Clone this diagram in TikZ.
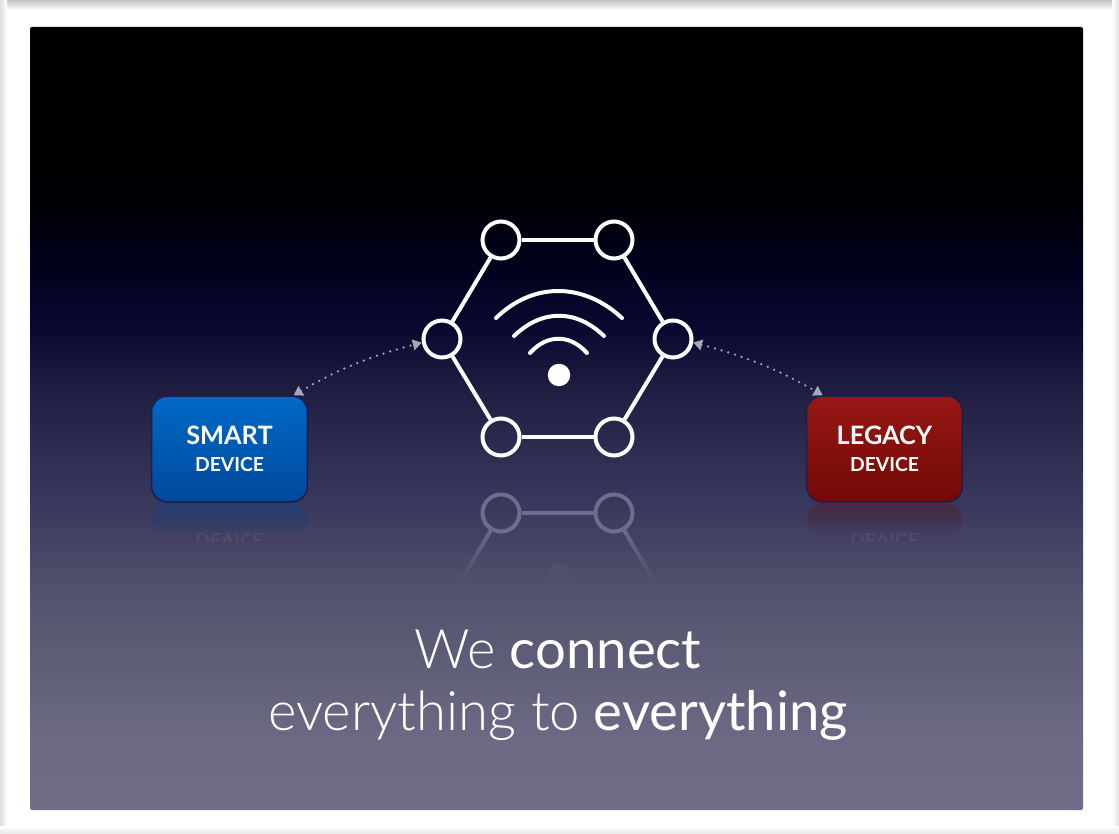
\documentclass[tikz,border=0pt]{standalone}
\usepackage{fontspec}
\setmainfont{Lato}
\newfontfamily\thinfont{Lato Light}
\newfontfamily\midfont{Lato}
\usetikzlibrary{arrows.meta, fadings}
\definecolor{c1}{HTML}{FFFFFF}
\definecolor{c2}{HTML}{6F6D8A}
\definecolor{c3}{HTML}{A6A6B6}
\definecolor{edgecolor}{HTML}{C4C4C4}
\definecolor{rimcolor}{HTML}{1E1E4C}
\definecolor{smarttop}{HTML}{0069C6}
\definecolor{smartlow}{HTML}{00499B}
\definecolor{legacytop}{HTML}{981715}
\definecolor{legacylow}{HTML}{720A06}
\definecolor{pa}{HTML}{706E87}
\definecolor{pb}{HTML}{6C6A84}
\definecolor{pc}{HTML}{555470}
\definecolor{pd}{HTML}{38375C}
\definecolor{pe}{HTML}{222145}
\definecolor{pf}{HTML}{0A0930}
\definecolor{pg}{HTML}{02021F}
\definecolor{ph}{HTML}{000006}
\pgfdeclareverticalshading{panelfade}{100bp}{
    color(0bp)=(pa); color(25bp)=(pa); color(29.15bp)=(pb); color(38.4bp)=(pc);
    color(44.8bp)=(pd); color(51.2bp)=(pe); color(55.6bp)=(pf); color(59.5bp)=(pg);
    color(64bp)=(ph); color(68bp)=(black); color(100bp)=(black)}

\begin{document}
\begin{tikzpicture}[
    x=0.02cm, y=-0.02cm,
    ring/.style={circle, draw=c1, line width=0.08cm, minimum size=0.74cm, inner sep=0pt},
    ghost/.style={circle, draw=c2, line width=0.08cm, minimum size=0.74cm, inner sep=0pt},
    link/.style={draw=c1, line width=0.08cm},
    ghostlink/.style={draw=c2, line width=0.08cm},
    wave/.style={draw=c1, line width=0.08cm, line cap=round},
    hop/.style={draw=c3, line width=0.05cm, line cap=round, dash pattern=on 0pt off 0.14cm,
        {Triangle[length=0.18cm, width=0.21cm]}-{Triangle[length=0.18cm, width=0.21cm]}},
    device/.style={rectangle, rounded corners=0.32cm, minimum width=3.12cm, minimum height=2.12cm,
        draw=rimcolor, line width=0.03cm, text=c1, align=center, font=\bfseries},
    echotext/.style={yscale=-1, transform shape, text=c1, opacity=0.06, font=\fontsize{11}{12}\selectfont\bfseries},
    big/.style={font=\fontsize{31}{31}\selectfont, text=c1, inner sep=0pt, anchor=base},
]
\useasboundingbox (0,0) rectangle (1119,834);

% ---------------------------------------------------------------- page and panel
\fill[c1] (0,0) rectangle (1119,834);
\shade[top color=edgecolor, bottom color=c1] (0,0) rectangle (1119,10);
\shade[left color=edgecolor!55, right color=c1] (0,0) rectangle (7,834);
\shade[left color=c1, right color=edgecolor!55] (1112,0) rectangle (1119,834);
\shade[top color=c1, bottom color=edgecolor!40] (0,826) rectangle (1119,834);
\shade[shading=panelfade, rounded corners=0.04cm] (30,27) rectangle (1083,810);

% ---------------------------------------------------------------- reflections
\fill[smartlow!35!pd, path fading=south, rounded corners=0.32cm] (152,503) -- (307,503) -- (307,536) -- (152,536) -- cycle;
\fill[legacylow!30!pd, path fading=south, rounded corners=0.32cm] (807,503) -- (962,503) -- (962,536) -- (807,536) -- cycle;
\begin{scope}
    \clip (140,532) rectangle (980,541);
    \node[echotext] (smartecho) at (229.5,540) {DEVICE};
    \node[echotext] (legacyecho) at (884.5,540) {DEVICE};
\end{scope}
\node[ghost] (echoa) at (501,513) {};
\node[ghost] (echob) at (614,513) {};
\coordinate (echoc) at (461,581);
\coordinate (echod) at (654,581);
\draw[ghostlink] (echoa) -- (echob);
\draw[ghostlink, path fading=south] (echoa) -- (echoc);
\draw[ghostlink, path fading=south] (echob) -- (echod);
\fill[c1, opacity=0.035, path fading=south] (559,575) circle (0.22cm);

% ---------------------------------------------------------------- the hexagon
\node[ring] (ringa) at (501,240) {};
\node[ring] (ringb) at (614,240) {};
\node[ring] (ringc) at (673,339) {};
\node[ring] (ringd) at (614,437) {};
\node[ring] (ringe) at (501,437) {};
\node[ring] (ringf) at (442,339) {};
\foreach \p/\q in {a/b, b/c, c/d, d/e, e/f, f/a}{
    \draw[link] (ring\p) -- (ring\q);
}
\draw[wave] (496,318) .. controls (533,282) and (583,282) .. (622,318);
\draw[wave] (514,336) .. controls (542,309) and (576,309) .. (604,336);
\draw[wave] (530,353) .. controls (547,334) and (570,334) .. (587,353);
\fill[c1] (559,375) circle (0.225cm);

% ---------------------------------------------------------------- the devices
\node[device, top color=smarttop, bottom color=smartlow] (smart) at (229.5,449)
    {\fontsize{14.4}{17}\selectfont SMART\\[3.5pt]\fontsize{11}{13}\selectfont DEVICE};
\node[device, top color=legacytop, bottom color=legacylow] (legacy) at (884.5,449)
    {\fontsize{14.4}{17}\selectfont LEGACY\\[3.5pt]\fontsize{11}{13}\selectfont DEVICE};

\draw[hop] (smart.40) to[out=30, in=195] (ringf.190);
\draw[hop] (ringc.-10) to[out=-15, in=150] (legacy.139);

% ---------------------------------------------------------------- title
\node[big] (titlea) at (558,668) {{\thinfont We} {\midfont connect}};
\node[big] (titleb) at (558,730) {{\thinfont everything to} {\midfont everything}};

\end{tikzpicture}
\end{document}
